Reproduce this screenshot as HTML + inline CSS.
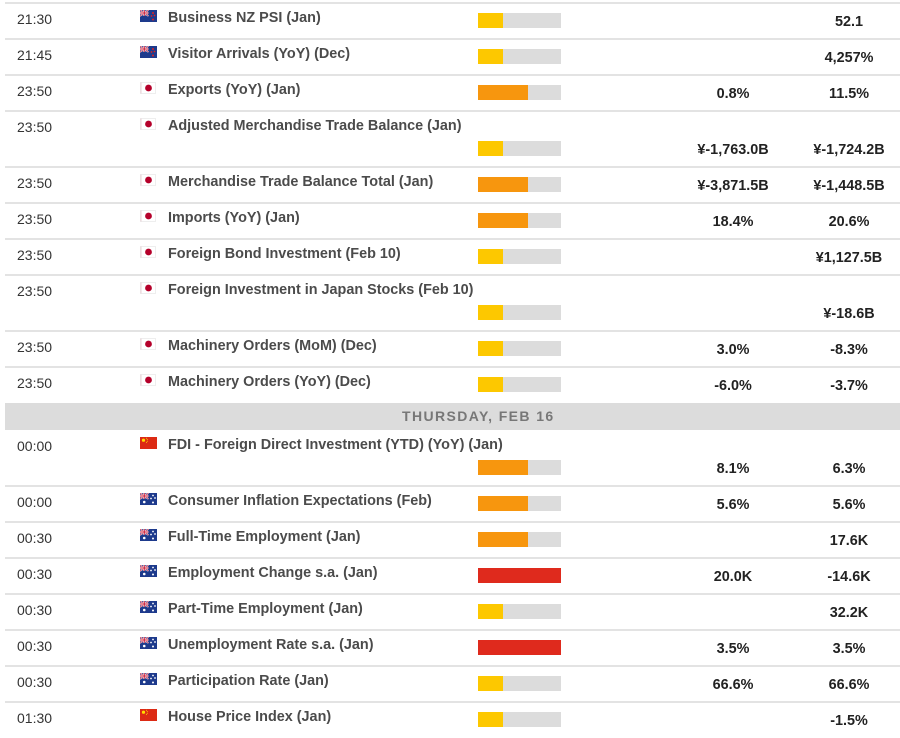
<!DOCTYPE html>
<html><head><meta charset="utf-8">
<style>
html,body{margin:0;padding:0;background:#fff;}
body{width:900px;height:736px;position:relative;overflow:hidden;font-family:"Liberation Sans",Arial,sans-serif;}
.r{position:absolute;left:0;width:900px;}
.ln{position:absolute;left:5px;width:895px;height:2px;top:-1px;background:#e3e3e3;}
.t{position:absolute;left:17px;top:7px;font-size:14px;line-height:18px;color:#333;white-space:nowrap;}
.f{position:absolute;left:140px;top:7px;width:17px;height:12px;}
.n{position:absolute;left:168px;top:6px;font-size:14.4px;font-weight:bold;line-height:18px;color:#4b4b4b;white-space:nowrap;}
.b{position:absolute;left:478px;top:10px;width:83px;height:15px;background:#dcdcdc;}
.d .b{top:30px;}
.b i{display:block;height:15px;}
.y{width:25px;background:#fdc800;}
.o{width:50px;background:#f7960e;}
.rd{width:83px;background:#df2a1d;}
.v{position:absolute;top:10px;width:160px;text-align:center;font-size:14.4px;font-weight:bold;line-height:18px;color:#222;white-space:nowrap;}
.d .v{top:30px;}
.v1{left:653px;}
.v2{left:769px;}
.hd{position:absolute;left:5px;top:403px;width:895px;height:27px;background:#dcdcdc;}
.hd span{position:absolute;left:397px;top:0;line-height:26px;font-size:14px;font-weight:bold;letter-spacing:1.4px;color:#777;white-space:nowrap;}
</style></head><body>
<svg width="0" height="0" style="position:absolute">
<defs>
<symbol id="nz" viewBox="0 0 17 12">
<rect width="17" height="12" fill="#1d3a8c"/>
<path d="M0 0L8.5 6M8.5 0L0 6" stroke="#fff" stroke-width="1.6"/>
<path d="M0 0L8.5 6M8.5 0L0 6" stroke="#c8102e" stroke-width="0.6"/>
<path d="M4.25 0V6M0 3H8.5" stroke="#fff" stroke-width="2"/>
<path d="M4.25 0V6M0 3H8.5" stroke="#c8102e" stroke-width="1"/>
<circle cx="13" cy="3" r="1" fill="#d22"/><circle cx="11.5" cy="6" r="0.9" fill="#d22"/><circle cx="14.5" cy="5.5" r="0.9" fill="#d22"/><circle cx="13" cy="9.5" r="1" fill="#d22"/>
</symbol>
<symbol id="au" viewBox="0 0 17 12">
<rect width="17" height="12" fill="#1d3a8c"/>
<path d="M0 0L8.5 6M8.5 0L0 6" stroke="#fff" stroke-width="1.6"/>
<path d="M0 0L8.5 6M8.5 0L0 6" stroke="#c8102e" stroke-width="0.6"/>
<path d="M4.25 0V6M0 3H8.5" stroke="#fff" stroke-width="2"/>
<path d="M4.25 0V6M0 3H8.5" stroke="#c8102e" stroke-width="1"/>
<circle cx="4.25" cy="9" r="1.3" fill="#fff"/>
<circle cx="13" cy="2.5" r="0.9" fill="#fff"/><circle cx="11" cy="5.5" r="0.9" fill="#fff"/><circle cx="15" cy="5" r="0.9" fill="#fff"/><circle cx="13" cy="9.5" r="1" fill="#fff"/>
</symbol>
<symbol id="cn" viewBox="0 0 17 12">
<rect width="17" height="12" fill="#dc2a14"/>
<circle cx="3.5" cy="3.2" r="1.6" fill="#ffde00"/>
<circle cx="6.5" cy="1.3" r="0.5" fill="#ffde00"/><circle cx="7.3" cy="2.6" r="0.5" fill="#ffde00"/><circle cx="7.3" cy="4.2" r="0.5" fill="#ffde00"/><circle cx="6.5" cy="5.4" r="0.5" fill="#ffde00"/>
</symbol>
<symbol id="jp" viewBox="0 0 17 12">
<rect x="0.5" y="0.5" width="15" height="11" fill="#fff" stroke="#eee"/>
<line x1="1" y1="0.5" x2="1" y2="11.5" stroke="#e8d0d4" stroke-width="1"/>
<circle cx="8.5" cy="6" r="3.4" fill="#b5002a"/>
</symbol>
</defs>
</svg>

<div class="r" style="top:3px;height:36px"><div class="ln"></div><div class="t">21:30</div><svg class="f"><use href="#nz"/></svg><div class="n">Business NZ PSI (Jan)</div><div class="b"><i class="y"></i></div><div class="v v2">52.1</div></div>

<div class="r" style="top:39px;height:36px"><div class="ln"></div><div class="t">21:45</div><svg class="f"><use href="#nz"/></svg><div class="n">Visitor Arrivals (YoY) (Dec)</div><div class="b"><i class="y"></i></div><div class="v v2">4,257%</div></div>

<div class="r" style="top:75px;height:36px"><div class="ln"></div><div class="t">23:50</div><svg class="f"><use href="#jp"/></svg><div class="n">Exports (YoY) (Jan)</div><div class="b"><i class="o"></i></div><div class="v v1">0.8%</div><div class="v v2">11.5%</div></div>

<div class="r d" style="top:111px;height:56px"><div class="ln"></div><div class="t">23:50</div><svg class="f"><use href="#jp"/></svg><div class="n">Adjusted Merchandise Trade Balance (Jan)</div><div class="b"><i class="y"></i></div><div class="v v1">¥-1,763.0B</div><div class="v v2">¥-1,724.2B</div></div>

<div class="r" style="top:167px;height:36px"><div class="ln"></div><div class="t">23:50</div><svg class="f"><use href="#jp"/></svg><div class="n">Merchandise Trade Balance Total (Jan)</div><div class="b"><i class="o"></i></div><div class="v v1">¥-3,871.5B</div><div class="v v2">¥-1,448.5B</div></div>

<div class="r" style="top:203px;height:36px"><div class="ln"></div><div class="t">23:50</div><svg class="f"><use href="#jp"/></svg><div class="n">Imports (YoY) (Jan)</div><div class="b"><i class="o"></i></div><div class="v v1">18.4%</div><div class="v v2">20.6%</div></div>

<div class="r" style="top:239px;height:36px"><div class="ln"></div><div class="t">23:50</div><svg class="f"><use href="#jp"/></svg><div class="n">Foreign Bond Investment (Feb 10)</div><div class="b"><i class="y"></i></div><div class="v v2">¥1,127.5B</div></div>

<div class="r d" style="top:275px;height:56px"><div class="ln"></div><div class="t">23:50</div><svg class="f"><use href="#jp"/></svg><div class="n">Foreign Investment in Japan Stocks (Feb 10)</div><div class="b"><i class="y"></i></div><div class="v v2">¥-18.6B</div></div>

<div class="r" style="top:331px;height:36px"><div class="ln"></div><div class="t">23:50</div><svg class="f"><use href="#jp"/></svg><div class="n">Machinery Orders (MoM) (Dec)</div><div class="b"><i class="y"></i></div><div class="v v1">3.0%</div><div class="v v2">-8.3%</div></div>

<div class="r" style="top:367px;height:36px"><div class="ln"></div><div class="t">23:50</div><svg class="f"><use href="#jp"/></svg><div class="n">Machinery Orders (YoY) (Dec)</div><div class="b"><i class="y"></i></div><div class="v v1">-6.0%</div><div class="v v2">-3.7%</div></div>

<div class="hd"><span>THURSDAY, FEB 16</span></div>

<div class="r d" style="top:430px;height:56px"><div class="t">00:00</div><svg class="f"><use href="#cn"/></svg><div class="n">FDI - Foreign Direct Investment (YTD) (YoY) (Jan)</div><div class="b"><i class="o"></i></div><div class="v v1">8.1%</div><div class="v v2">6.3%</div></div>

<div class="r" style="top:486px;height:36px"><div class="ln"></div><div class="t">00:00</div><svg class="f"><use href="#au"/></svg><div class="n">Consumer Inflation Expectations (Feb)</div><div class="b"><i class="o"></i></div><div class="v v1">5.6%</div><div class="v v2">5.6%</div></div>

<div class="r" style="top:522px;height:36px"><div class="ln"></div><div class="t">00:30</div><svg class="f"><use href="#au"/></svg><div class="n">Full-Time Employment (Jan)</div><div class="b"><i class="o"></i></div><div class="v v2">17.6K</div></div>

<div class="r" style="top:558px;height:36px"><div class="ln"></div><div class="t">00:30</div><svg class="f"><use href="#au"/></svg><div class="n">Employment Change s.a. (Jan)</div><div class="b"><i class="rd"></i></div><div class="v v1">20.0K</div><div class="v v2">-14.6K</div></div>

<div class="r" style="top:594px;height:36px"><div class="ln"></div><div class="t">00:30</div><svg class="f"><use href="#au"/></svg><div class="n">Part-Time Employment (Jan)</div><div class="b"><i class="y"></i></div><div class="v v2">32.2K</div></div>

<div class="r" style="top:630px;height:36px"><div class="ln"></div><div class="t">00:30</div><svg class="f"><use href="#au"/></svg><div class="n">Unemployment Rate s.a. (Jan)</div><div class="b"><i class="rd"></i></div><div class="v v1">3.5%</div><div class="v v2">3.5%</div></div>

<div class="r" style="top:666px;height:36px"><div class="ln"></div><div class="t">00:30</div><svg class="f"><use href="#au"/></svg><div class="n">Participation Rate (Jan)</div><div class="b"><i class="y"></i></div><div class="v v1">66.6%</div><div class="v v2">66.6%</div></div>

<div class="r" style="top:702px;height:36px"><div class="ln"></div><div class="t">01:30</div><svg class="f"><use href="#cn"/></svg><div class="n">House Price Index (Jan)</div><div class="b"><i class="y"></i></div><div class="v v2">-1.5%</div></div>

</body></html>
